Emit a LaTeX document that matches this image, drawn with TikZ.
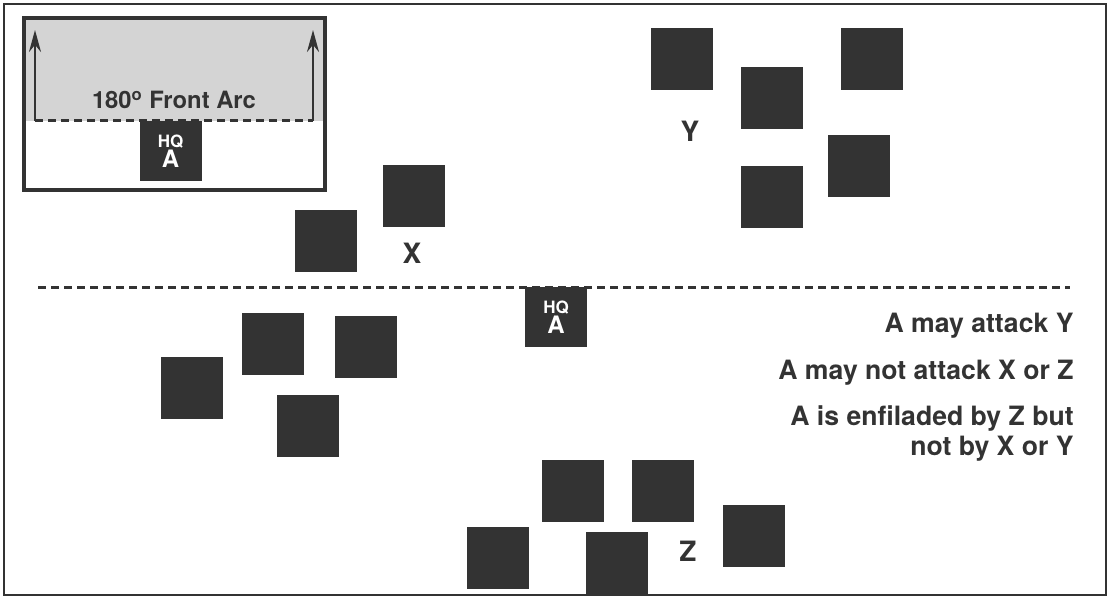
\documentclass[tikz,border=0pt]{standalone}
\usepackage{fontspec}
\setmainfont{TeX Gyre Heros}
\usepackage{tikz}
\usetikzlibrary{positioning,arrows.meta}
\definecolor{ink}{HTML}{333333}
\definecolor{arcgray}{HTML}{D4D4D4}
\tikzset{
  unit/.style={fill=ink,draw=none,minimum width=31pt,minimum height=31pt,inner sep=0pt},
  hqunit/.style={unit,text=white,font=\bfseries\fontsize{12}{10}\selectfont,align=center},
  grouplabel/.style={text=ink,font=\bfseries\fontsize{14}{16}\selectfont},
  ruletext/.style={text=ink,font=\bfseries\fontsize{13.3}{15}\selectfont,anchor=east,align=right,inner sep=0pt},
  frontline/.style={ink,line width=1.5pt,dash pattern=on 4pt off 2.5pt}
}
\newcommand{\hqtext}{%
  % two lines: small HQ above a larger A
  {\fontsize{8.5}{8.5}\selectfont HQ}\\A%
}
\begin{document}
\begin{tikzpicture}[x=0.5pt,y=-0.5pt]
  \useasboundingbox (0,0) rectangle (1111,604);
  \draw[ink,line width=1.4pt] (4,4) rectangle (1106,595);
  % inset: the front arc
  \fill[arcgray] (24,18) rectangle (325,121);
  \draw[ink,line width=1.6pt] (24,18) rectangle (325,190);
  \coordinate (arcL) at (35,121);
  \coordinate (arcR) at (313,121);
  \draw[frontline] (arcL) -- (arcR);
  \coordinate (arcLtop) at (35,30);
  \coordinate (arcRtop) at (313,30);
  \draw[ink,line width=1.1pt,-{Stealth[length=11pt,width=6pt]}] (arcL) -- (arcLtop);
  \draw[ink,line width=1.1pt,-{Stealth[length=11pt,width=6pt]}] (arcR) -- (arcRtop);
  \node[text=ink,font=\bfseries\fontsize{11.9}{13}\selectfont] (arclabel) at (174,100) {180\textsuperscript{o} Front Arc};
  \node[hqunit,minimum height=30pt] (hqinset) at (170.5,151) {\hqtext};
  % main front line and HQ
  \coordinate (lineL) at (38,287);
  \coordinate (lineR) at (1070,287);
  \draw[frontline] (lineL) -- (lineR);
  \node[hqunit,minimum height=30pt] (hq) at (556,317) {\hqtext};
  % group Y
  \node[unit] (y1) at (682,59) {};
  \node[unit] (y2) at (771.5,98) {};
  \node[unit] (y3) at (872,59) {};
  \node[unit] (y4) at (858.5,166) {};
  \node[unit] (y5) at (772,197) {};
  \node[grouplabel] (ylabel) at (690,131) {Y};
  % group X
  \node[unit] (x1) at (414,196) {};
  \node[unit] (x2) at (326,240.5) {};
  \node[grouplabel] (xlabel) at (412,253) {X};
  % left group
  \node[unit] (l1) at (273,343.5) {};
  \node[unit] (l2) at (366,346.5) {};
  \node[unit] (l3) at (192,387.5) {};
  \node[unit] (l4) at (308,425.5) {};
  % group Z
  \node[unit] (z1) at (572.5,490.5) {};
  \node[unit] (z2) at (663,490.5) {};
  \node[unit] (z3) at (753.5,535.5) {};
  \node[unit] (z4) at (498,557.5) {};
  \node[unit] (z5) at (617,563) {};
  \node[grouplabel] (zlabel) at (688,551) {Z};
  % rules
  \node[ruletext] (rule1) at (1074,326) {A may attack Y};
  \node[ruletext] (rule2) at (1074,373) {A may not attack X or Z};
  \node[ruletext] (rule3) at (1074,433) {A is enfiladed by Z but\\not by X or Y};
\end{tikzpicture}
\end{document}
